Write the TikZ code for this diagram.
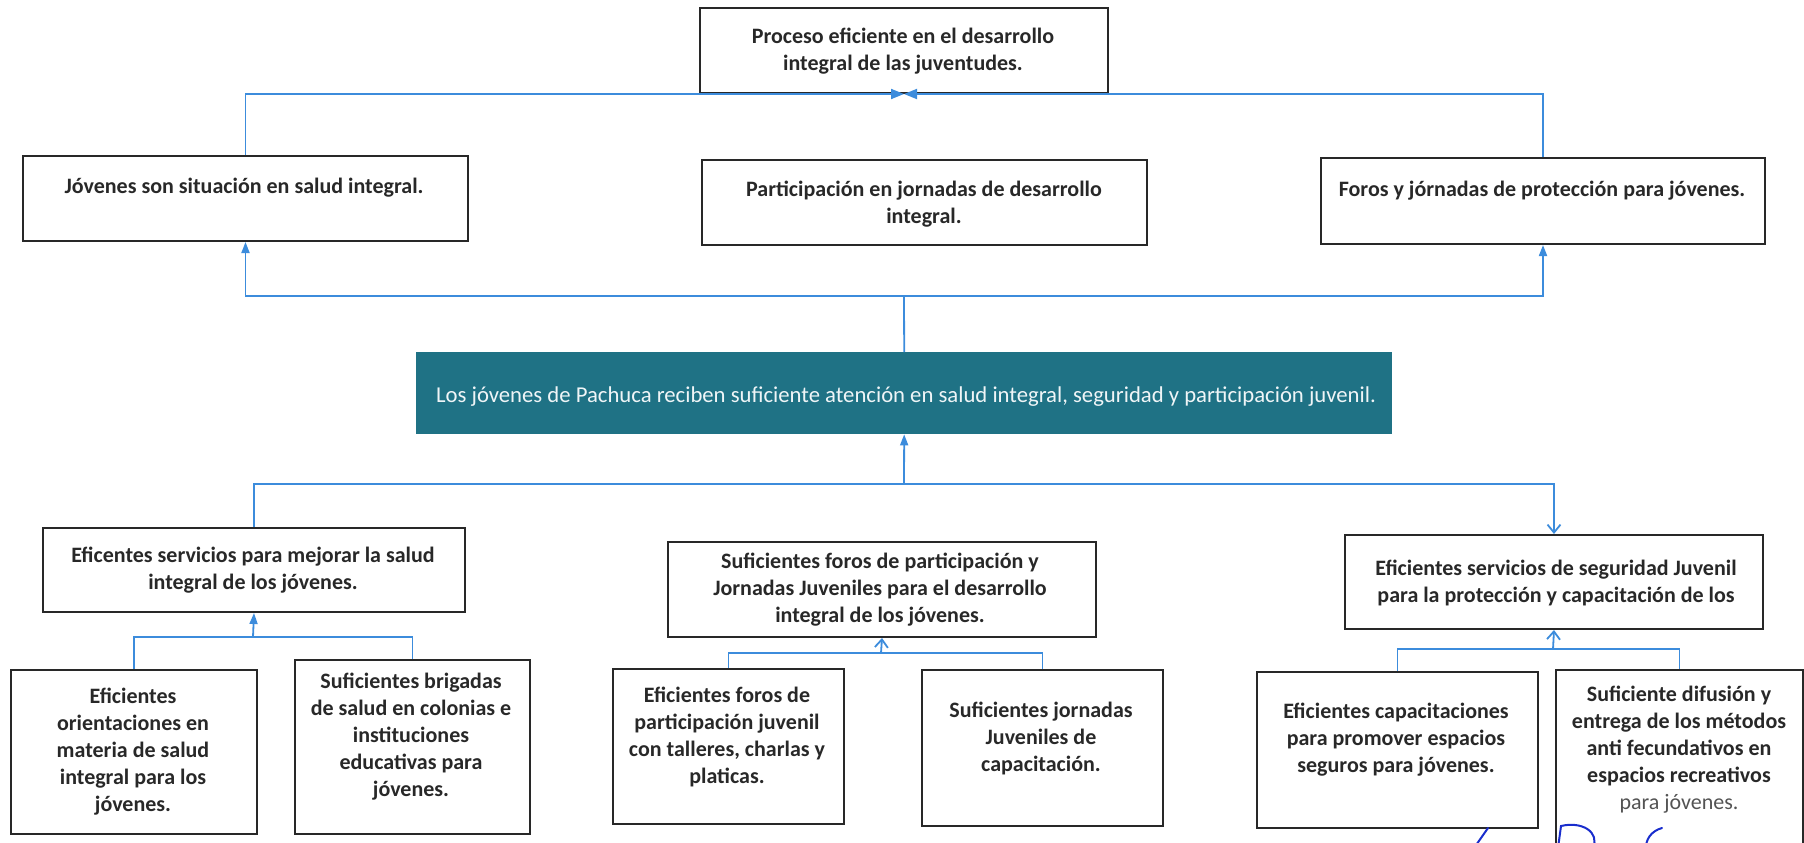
\documentclass[tikz,border=0pt]{standalone}
\usepackage{fontspec}
\setmainfont{Carlito}
\usetikzlibrary{arrows.meta}
\definecolor{tealbox}{RGB}{31,114,133}
\definecolor{conblue}{RGB}{60,140,220}
\definecolor{ink}{RGB}{40,40,40}
\definecolor{pen}{RGB}{25,45,205}
\begin{document}
\begin{tikzpicture}[x=1pt,y=-1pt,
  box/.style={draw=ink, line width=2pt, inner sep=0pt, anchor=north west},
  txt/.style={align=center, inner sep=0pt, text=ink, font=\fontsize{22}{27}\selectfont\bfseries},
  conn/.style={draw=conblue, line width=1.8pt},
  fa/.style={-{Triangle[length=11pt,width=8pt]}},
  fb/.style={-{Triangle[length=13pt,width=10pt]}},
  oa/.style={-{Straight Barb[length=8pt,width=13pt]}},
]
\clip (0,0) rectangle (1804,843);
\useasboundingbox (0,0) rectangle (1804,843);

% boxes
\node[box, minimum width=408pt, minimum height=85pt] (T) at (699,7) {};
\node[box, minimum width=445pt, minimum height=85pt] (L1) at (22,155) {};
\node[box, minimum width=445pt, minimum height=85pt] (M1) at (701,159) {};
\node[box, minimum width=444pt, minimum height=86pt] (R1) at (1320,157) {};
\node[fill=tealbox, inner sep=0pt, anchor=north west, minimum width=976pt, minimum height=82pt] (teal) at (416,352) {};
\node[box, minimum width=422pt, minimum height=84pt] (B1) at (42,527) {};
\node[box, minimum width=428pt, minimum height=95pt] (B2) at (667,541) {};
\node[box, minimum width=418pt, minimum height=94pt] (B3) at (1344,534) {};
\node[box, minimum width=246pt, minimum height=164pt] (C1) at (10,669) {};
\node[box, minimum width=235pt, minimum height=174pt] (C2) at (294,659) {};
\node[box, minimum width=231pt, minimum height=155pt] (C3) at (612,668) {};
\node[box, minimum width=241pt, minimum height=156pt] (C4) at (921,669) {};
\node[box, minimum width=281pt, minimum height=156pt] (C5) at (1256,671) {};
\node[box, minimum width=247pt, minimum height=200pt] (C6) at (1555,669) {};

% texts
\node[txt] (Tt) at (903,51.5) {Proceso eficiente en el desarrollo\\integral de las juventudes.};
\node[txt] (L1t) at (244,188) {Jóvenes son situación en salud integral.};
\node[txt] (M1t) at (924,204.5) {Participación en jornadas de desarrollo\\integral.};
\node[txt] (R1t) at (1542,191) {Foros y jórnadas de protección para jóvenes.};
\node[inner sep=0pt, text=white!93!tealbox, font=\fontsize{22.7}{27}\selectfont] (tealt) at (906,397) {Los jóvenes de Pachuca reciben suficiente atención en salud integral, seguridad y participación juvenil.};
\node[txt] (B1t) at (253,570.5) {Eficentes servicios para mejorar la salud\\integral de los jóvenes.};
\node[txt] (B2t) at (880,590) {Suficientes foros de participación y\\Jornadas Juveniles para el desarrollo\\integral de los jóvenes.};
\node[txt] (B3t) at (1556,582.5) {Eficientes servicios de seguridad Juvenil\\para la protección y capacitación de los};
\node[txt] (C1t) at (133,751.5) {Eficientes\\orientaciones en\\materia de salud\\integral para los\\jóvenes.};
\node[txt] (C2t) at (411,737) {Suficientes brigadas\\de salud en colonias e\\instituciones\\educativas para\\jóvenes.};
\node[txt] (C3t) at (727,736.5) {Eficientes foros de\\participación juvenil\\con talleres, charlas y\\platicas.};
\node[txt] (C4t) at (1041,738.5) {Suficientes jornadas\\Juveniles de\\capacitación.};
\node[txt] (C5t) at (1396,740) {Eficientes capacitaciones\\para promover espacios\\seguros para jóvenes.};
\node[txt] (C6t) at (1679,750) {Suficiente difusión y\\entrega de los métodos\\anti fecundativos en\\espacios recreativos\\{\mdseries\color{ink!80}para jóvenes.}};

% connectors top
\draw[conn,fb] (L1.north) |- (T.south);
\draw[conn,fb] (R1.north) |- (T.south);
\coordinate (h1) at (904,296);
\draw[conn] (teal.north) -- (h1);
\draw[conn,fa] (h1) -| (L1.south);
\draw[conn,fa] (h1) -| (R1.south);
% below teal
\coordinate (h2) at (904,484);
\draw[conn] (B1.north) |- (h2);
\draw[conn,fa] (h2) -- (teal.south);
\draw[conn,oa] (h2) -| (B3.north);
% B1 group
\coordinate (h3) at (253,637);
\draw[conn] (C1.north) |- (h3);
\draw[conn] (C2.north) |- (h3);
\draw[conn,fa] (h3) -- (B1.south);
% B2 group
\coordinate (h4) at (881,653);
\draw[conn] (C3.north) |- (h4);
\draw[conn] (C4.north) |- (h4);
\draw[conn,oa] (h4) -- (B2.south);
% B3 group
\coordinate (h5) at (1553,649);
\draw[conn] (C5.north) |- (h5);
\draw[conn] (C6.north) |- (h5);
\draw[conn,oa] (h5) -- (B3.south);

% handwritten signature fragments
\draw[pen, line width=2pt, line cap=round] (1474,848) -- (1488,828);
\draw[pen, line width=2pt, line cap=round] (1558,848) -- (1561,826) .. controls (1582,821) and (1600,832) .. (1593,848);
\draw[pen, line width=2pt, line cap=round] (1662,828) .. controls (1651,831) and (1645,840) .. (1646,850);
\end{tikzpicture}
\end{document}
